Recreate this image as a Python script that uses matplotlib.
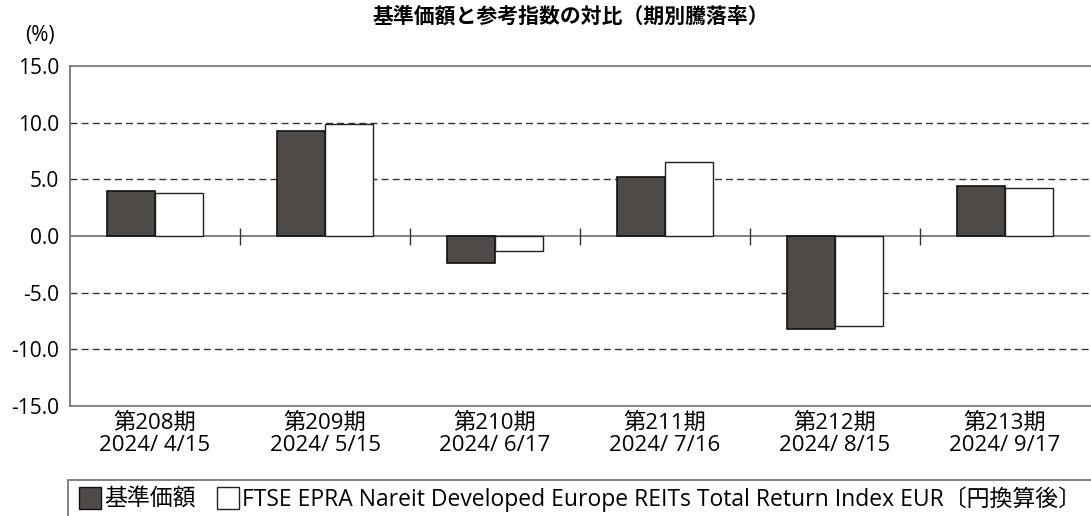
import matplotlib
matplotlib.use("Agg")
import matplotlib.pyplot as plt
import matplotlib.patches as mpatches
from matplotlib.lines import Line2D
import numpy as np

plt.rcParams['font.family'] = ['Open Sans', 'Noto Sans CJK JP', 'DejaVu Sans']

# data
periods = ['第208期', '第209期', '第210期', '第211期', '第212期', '第213期']
dates = ['2024/ 4/15', '2024/ 5/15', '2024/ 6/17', '2024/ 7/16', '2024/ 8/15', '2024/ 9/17']
fund = [4.0, 9.3, -2.4, 5.2, -8.2, 4.4]
index = [3.8, 9.9, -1.3, 6.5, -7.9, 4.2]
yticks = [15.0, 10.0, 5.0, 0.0, -5.0, -10.0, -15.0]

fund_label = '基準価額'
index_label = 'FTSE EPRA Nareit Developed Europe REITs Total Return Index EUR〔円換算後〕'
title = '基準価額と参考指数の対比（期別騰落率）'

dark = '#4d4a48'
gray = '#6e6e6e'
fs = 15

fig = plt.figure(figsize=(10.91, 5.16), dpi=100)
ax = fig.add_axes([70/1091, 1-406/516, 1020/1091, 340/516])

x = np.arange(len(periods))
w = 0.283
ax.bar(x - w/2, fund, w, color=dark, edgecolor='#111111', linewidth=1.2, zorder=3)
ax.bar(x + w/2, index, w, color='white', edgecolor='#222222', linewidth=1.0, zorder=3)

ax.set_xlim(-0.5, len(periods) - 0.5)
ax.set_ylim(-15, 15)
ax.set_yticks(yticks)
ax.set_yticklabels([f'{v:.1f}' for v in yticks], fontsize=fs)

# dashed grid, solid zero line
for v in yticks:
    if v in (15.0, -15.0, 0.0):
        continue
    ax.axhline(v, color='#333333', lw=1.0, ls=(0, (5, 3)), zorder=1)
ax.axhline(0, color=gray, lw=1.2, zorder=2)
ax.vlines(x[:-1] + 0.5, -0.75, 0.75, color='#333333', lw=1.0, zorder=2)

ax.set_xticks(x)
ax.set_xticklabels([p + '\n' + d for p, d in zip(periods, dates)], fontsize=16,
                   linespacing=1.05)
ax.tick_params(axis='x', length=0, pad=5)
ax.tick_params(axis='y', length=0, pad=8)

for s in ['left', 'top', 'bottom']:
    ax.spines[s].set_color(gray)
    ax.spines[s].set_linewidth(1.2)
ax.spines['right'].set_visible(False)

fig.text(571/1091, 1-16/516, title, ha='center', va='center', fontsize=15,
         fontweight='bold', family=['Noto Sans CJK JP'])
fig.text(40/1091, 1-35/516, '(%)', ha='center', va='center', fontsize=fs)

# legend box
fig.patches.append(mpatches.Rectangle((68/1091, -0.05), 1030/1091, 1-480/516 + 0.05,
                                      transform=fig.transFigure, fill=False,
                                      edgecolor=gray, lw=1.2))
handles = [
    Line2D([], [], marker='s', ls='none', markersize=16, markerfacecolor=dark,
           markeredgecolor='#111111', label=fund_label),
    Line2D([], [], marker='s', ls='none', markersize=16, markerfacecolor='white',
           markeredgecolor='#222222', label=index_label),
]
fig.legend(handles=handles, loc='center left', bbox_to_anchor=(79/1091, 1-499/516),
           ncol=2, frameon=False, fontsize=16.5, handletextpad=0.12,
           columnspacing=0.9, handlelength=1.0, borderaxespad=0, borderpad=0)

fig.savefig('out.png', dpi=100)
